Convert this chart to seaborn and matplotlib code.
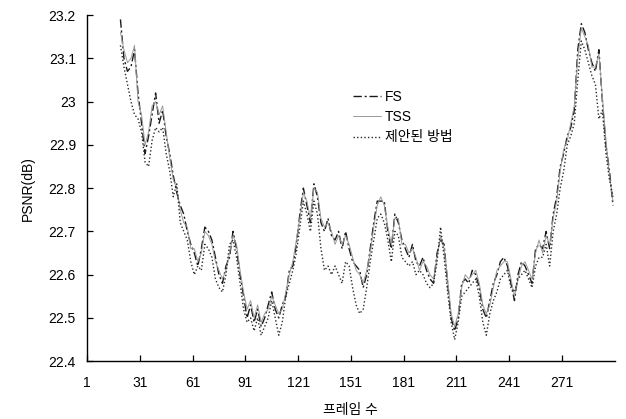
import numpy as np
import pandas as pd
import matplotlib
matplotlib.use("Agg")
import matplotlib.pyplot as plt
import seaborn as sns

# ---- data ----
frames = list(range(20, 301, 2))

fs = [
    23.19, 23.10, 23.07, 23.08, 23.12, 23.02, 22.95, 22.88, 22.92, 22.97,
    23.02, 22.95, 22.98, 22.92, 22.88, 22.83, 22.79, 22.76, 22.74, 22.70,
    22.67, 22.65, 22.62, 22.66, 22.71, 22.70, 22.68, 22.64, 22.60, 22.58,
    22.62, 22.64, 22.70, 22.66, 22.60, 22.55, 22.50, 22.53, 22.49, 22.52,
    22.48, 22.50, 22.53, 22.56, 22.52, 22.50, 22.53, 22.55, 22.61, 22.62,
    22.67, 22.74, 22.80, 22.76, 22.72, 22.81, 22.78, 22.72, 22.70, 22.73,
    22.69, 22.68, 22.70, 22.66, 22.70, 22.66, 22.63, 22.62, 22.61, 22.57,
    22.60, 22.66, 22.72, 22.77, 22.77, 22.77, 22.70, 22.66, 22.74, 22.72,
    22.68, 22.66, 22.64, 22.67, 22.63, 22.62, 22.64, 22.61, 22.59, 22.58,
    22.65, 22.68, 22.67, 22.58, 22.50, 22.47, 22.50, 22.58, 22.59, 22.58,
    22.61, 22.60, 22.57, 22.52, 22.50, 22.54, 22.58, 22.60, 22.63, 22.64,
    22.62, 22.58, 22.54, 22.60, 22.63, 22.62, 22.60, 22.58, 22.66, 22.67,
    22.66, 22.70, 22.66, 22.74, 22.78, 22.85, 22.88, 22.92, 22.94, 22.98,
    23.12, 23.18, 23.16, 23.12, 23.09, 23.07, 23.12, 23.00, 22.90, 22.84,
    22.76,
]

tss = [
    23.16, 23.12, 23.09, 23.10, 23.13, 23.00, 22.97, 22.90, 22.93, 22.99,
    23.00, 22.97, 22.99, 22.93, 22.87, 22.82, 22.80, 22.75, 22.72, 22.71,
    22.66, 22.66, 22.63, 22.65, 22.70, 22.69, 22.67, 22.63, 22.61, 22.59,
    22.61, 22.65, 22.69, 22.67, 22.61, 22.56, 22.52, 22.54, 22.50, 22.53,
    22.49, 22.51, 22.52, 22.55, 22.53, 22.51, 22.52, 22.56, 22.60, 22.63,
    22.68, 22.73, 22.79, 22.77, 22.73, 22.80, 22.79, 22.73, 22.71, 22.72,
    22.70, 22.67, 22.69, 22.67, 22.69, 22.67, 22.64, 22.61, 22.60, 22.58,
    22.61, 22.65, 22.71, 22.76, 22.78, 22.76, 22.71, 22.67, 22.73, 22.73,
    22.67, 22.67, 22.65, 22.66, 22.64, 22.61, 22.63, 22.62, 22.60, 22.59,
    22.64, 22.69, 22.66, 22.59, 22.51, 22.48, 22.51, 22.57, 22.60, 22.59,
    22.60, 22.61, 22.58, 22.53, 22.51, 22.53, 22.57, 22.61, 22.62, 22.63,
    22.63, 22.59, 22.55, 22.59, 22.62, 22.63, 22.61, 22.59, 22.65, 22.68,
    22.65, 22.69, 22.67, 22.73, 22.77, 22.84, 22.89, 22.91, 22.95, 22.99,
    23.10, 23.17, 23.15, 23.13, 23.08, 23.08, 23.11, 23.01, 22.91, 22.83,
    22.77,
]

proposed = [
    23.13, 23.08, 23.04, 23.00, 22.97, 22.96, 22.93, 22.86, 22.85, 22.91,
    22.94, 22.93, 22.94, 22.88, 22.84, 22.78, 22.81, 22.72, 22.70, 22.68,
    22.63, 22.60, 22.62, 22.61, 22.67, 22.66, 22.64, 22.59, 22.57, 22.56,
    22.60, 22.67, 22.68, 22.64, 22.58, 22.52, 22.49, 22.50, 22.47, 22.50,
    22.46, 22.48, 22.50, 22.54, 22.50, 22.46, 22.49, 22.55, 22.58, 22.61,
    22.65, 22.71, 22.77, 22.74, 22.70, 22.77, 22.74, 22.66, 22.61, 22.62,
    22.60, 22.62, 22.60, 22.58, 22.63, 22.62, 22.57, 22.53, 22.51, 22.52,
    22.57, 22.63, 22.68, 22.73, 22.74, 22.72, 22.68, 22.63, 22.70, 22.69,
    22.64, 22.63, 22.62, 22.63, 22.60, 22.61, 22.60, 22.58, 22.57, 22.58,
    22.63, 22.71, 22.64, 22.56, 22.49, 22.45, 22.49, 22.55, 22.56, 22.57,
    22.58, 22.59, 22.55, 22.49, 22.46, 22.51, 22.54, 22.56, 22.59, 22.60,
    22.61, 22.57, 22.56, 22.59, 22.60, 22.61, 22.59, 22.57, 22.62, 22.64,
    22.64, 22.67, 22.62, 22.70, 22.74, 22.80, 22.84, 22.90, 22.92, 22.95,
    23.05, 23.14, 23.12, 23.09, 23.06, 23.04, 22.96, 22.98, 22.88, 22.82,
    22.78,
]

series_names = ["FS", "TSS", "제안된 방법"]
x_ticks = [1, 31, 61, 91, 121, 151, 181, 211, 241, 271]
y_ticks = [22.4, 22.5, 22.6, 22.7, 22.8, 22.9, 23.0, 23.1, 23.2]
y_tick_labels = ["22.4", "22.5", "22.6", "22.7", "22.8", "22.9", "23", "23.1", "23.2"]

# ---- styling ----
sns.set_theme(style="white")
plt.rcParams["font.family"] = ["Liberation Sans", "Noto Sans CJK KR"]
plt.rcParams["axes.unicode_minus"] = False

fig = plt.figure(figsize=(6.26, 4.19), dpi=100)
ax = fig.add_axes([0.139, 0.138, 0.843, 0.826])

styles = {
    "FS": dict(color="#1a1a1a", lw=1.0, dashes=(6, 2, 1.5, 2)),
    "TSS": dict(color="#9a9a9a", lw=0.7, dashes=()),
    "제안된 방법": dict(color="#2a2a2a", lw=1.0, dashes=(1, 1.6)),
}

for name, vals in zip(series_names, [fs, tss, proposed]):
    df = pd.DataFrame({"frame": frames, "psnr": vals})
    st = styles[name]
    line_ax = sns.lineplot(data=df, x="frame", y="psnr", ax=ax, color=st["color"],
                           linewidth=st["lw"], label=name)
    ln = line_ax.get_lines()[-1]
    if st["dashes"]:
        ln.set_dashes(st["dashes"])

ax.set_xlim(1, 301)
ax.set_ylim(22.4, 23.2)
ax.set_xticks(x_ticks)
ax.set_xticklabels([str(t) for t in x_ticks])
ax.set_yticks(y_ticks)
ax.set_yticklabels(y_tick_labels)

for s in ["top", "right"]:
    ax.spines[s].set_visible(False)
for s in ["left", "bottom"]:
    ax.spines[s].set_color("black")
    ax.spines[s].set_linewidth(1.0)

ax.tick_params(axis="x", pad=11)
ax.tick_params(axis="y", pad=8)
ax.tick_params(axis="both", direction="in", length=4, width=0.9, colors="black",
               labelsize=10, left=True, bottom=True)

ax.set_xlabel("프레임 수", fontsize=10, labelpad=9, color="black")
ax.set_ylabel("PSNR(dB)", fontsize=10, labelpad=10, color="black")

leg = ax.legend(loc="upper left", bbox_to_anchor=(0.48, 0.82), frameon=False,
                fontsize=10, handlelength=2.0, handletextpad=0.3, labelspacing=0.45)
for t in leg.get_texts():
    t.set_color("black")

fig.savefig("out.png", dpi=100)
